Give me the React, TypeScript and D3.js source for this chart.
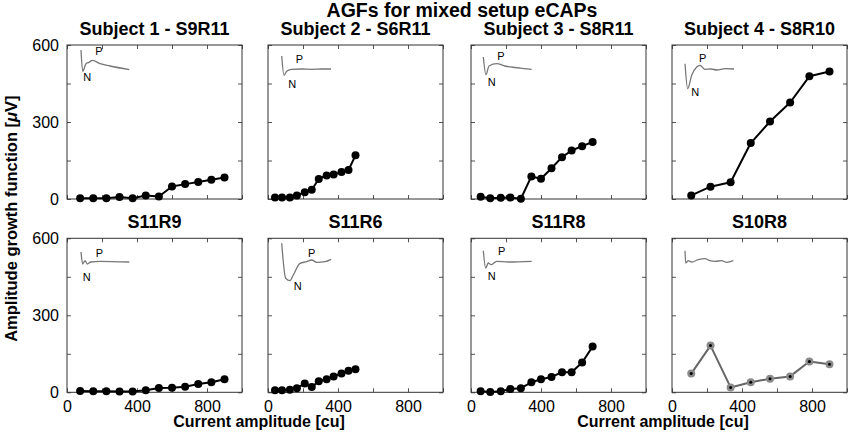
import React, { useEffect, useRef } from 'react';
import * as d3 from 'd3';

// AGF panels: current amplitude [cu] vs amplitude growth function [µV]
const titles = [
  'Subject 1 - S9R11', 'Subject 2 - S6R11', 'Subject 3 - S8R11', 'Subject 4 - S8R10',
  'S11R9', 'S11R6', 'S11R8', 'S10R8',
];

const currentS1 = [75, 150, 225, 300, 375, 450, 525, 600, 675, 750, 825, 900];
const currentS2 = [40, 80, 125, 165, 210, 250, 290, 335, 375, 420, 460, 500];
const currentS3 = [55, 110, 170, 225, 285, 345, 400, 460, 520, 575, 635, 695];
const currentS4 = [110, 220, 335, 450, 560, 675, 785, 900];

const agfS9R11 = [3, 3, 3, 8, 3, 14, 10, 49, 58, 66, 75, 84];
const agfS6R11 = [6, 6, 6, 14, 26, 36, 78, 92, 95, 105, 113, 170];
const agfS8R11 = [9, 3, 5, 6, 1, 88, 79, 120, 163, 189, 206, 222];
const agfS8R10 = [14, 48, 65, 218, 302, 376, 478, 497];
const agfS11R9 = [5, 4, 4, 3, 3, 8, 17, 18, 22, 32, 39, 51];
const agfS11R6 = [8, 8, 10, 16, 34, 21, 43, 51, 62, 73, 84, 90];
const agfS11R8 = [4, 1, 4, 13, 16, 39, 51, 60, 78, 78, 116, 178];
const agfS10R8 = [73, 182, 19, 39, 53, 62, 120, 109];

// inset eCAP traces, [time, amplitude] in inset units
const traceS9R11: [number, number][] = [[1, -5], [2.7, -26.3], [6, -18.7], [8.3, -17.7], [12.7, -15.3], [20, -18.7], [30, -21], [49.3, -24.7]];
const traceS6R11: [number, number][] = [[0.7, -11], [3, -30.3], [5.7, -26.3], [10.7, -24.3], [20.7, -24], [30.7, -24.3], [40.7, -24], [50, -24]];
const traceS8R11: [number, number][] = [[-0.7, -12], [2, -29.7], [5, -21], [12.7, -18.7], [21, -21], [31, -22.5], [38, -23.3], [47.7, -24.3]];
const traceS8R10: [number, number][] = [[0, -18.7], [2.7, -43.7], [6.7, -30.3], [11.7, -22], [15, -20.3], [20, -24.3], [26, -24], [32, -25], [40, -23.7], [49, -24]];
const traceS11R9: [number, number][] = [[1, -13.7], [2.7, -25.7], [5, -22.4], [7.3, -25.7], [10.7, -23.7], [20, -23], [49.3, -23.7]];
const traceS11R6: [number, number][] = [[0.7, -5], [4.7, -40], [9, -42.4], [12.3, -36.7], [19, -25], [25.7, -23.4], [30.7, -21.7], [35.7, -24], [44, -23.4], [50, -21]];
const traceS11R8: [number, number][] = [[-0.7, -12.4], [1.7, -29.7], [4.3, -24.7], [7, -26.4], [12.7, -23], [24.3, -23.7], [47.7, -23]];
const traceS10R8: [number, number][] = [[0, -12.4], [0.7, -24.7], [3.3, -22.4], [6.7, -23.7], [13.3, -21.4], [20, -20.4], [25, -22.4], [30, -23], [36.7, -22.4], [41.7, -24], [48.3, -22.4]];

// where the P and N marks sit on each trace
const pMarks: ([number, number] | null)[] = [[19, -6.3], [18.3, -14.3], [17, -11], [17.7, -13.3], [19.3, -14.7], [30.7, -14.4], [17.7, -13], null];
const nMarks: ([number, number] | null)[] = [[7.3, -32], [11.3, -39.3], [7.7, -37], [10.3, -46.7], [6.7, -39], [16.7, -47.7], [7.7, -37.4], null];

const xTicks = [0, 200, 400, 600, 800, 1000];
const xLabels = [0, 400, 800];
const yTicks = [0, 150, 300, 450, 600];
const yLabels = [0, 300, 600];

const currents = [currentS1, currentS2, currentS3, currentS4, currentS1, currentS2, currentS3, currentS4];
const agfs = [agfS9R11, agfS6R11, agfS8R11, agfS8R10, agfS11R9, agfS11R6, agfS11R8, agfS10R8];
const traces = [traceS9R11, traceS6R11, traceS8R11, traceS8R10, traceS11R9, traceS11R6, traceS11R8, traceS10R8];

const W = 851;
const H = 435;
const lefts = [67, 268, 471, 672];
const tops = [45, 238.3];
const pw = 175;
const ph = 154;
const font = "'Liberation Sans', Arial, Helvetica, sans-serif";

const App: React.FC = () => {
  const ref = useRef<SVGSVGElement>(null);

  useEffect(() => {
    if (!ref.current) return;
    const svg = d3.select(ref.current);
    svg.selectAll('*').remove();
    svg.style('font-family', font);

    titles.forEach((title, i) => {
      const col = i % 4;
      const row = Math.floor(i / 4);
      const left = lefts[col];
      const top = tops[row];
      const x = d3.scaleLinear().domain([0, 1000]).range([left, left + pw]);
      const y = d3.scaleLinear().domain([0, 600]).range([top + ph, top]);

      const g = svg.append('g');

      // frame ticks (inward, all four sides)
      const axes = [
        { ax: d3.axisBottom(x).tickValues(xTicks), t: `translate(0,${top + ph})`, lab: row === 1, list: xLabels },
        { ax: d3.axisTop(x).tickValues(xTicks), t: `translate(0,${top})`, lab: false, list: xLabels },
        { ax: d3.axisLeft(y).tickValues(yTicks), t: `translate(${left},0)`, lab: col === 0, list: yLabels },
        { ax: d3.axisRight(y).tickValues(yTicks), t: `translate(${left + pw},0)`, lab: false, list: yLabels },
      ];
      axes.forEach(({ ax, t, lab, list }, k) => {
        const a = g.append('g').attr('transform', t)
          .call(ax.tickSize(-4).tickPadding(k === 0 ? 8 : 8));
        a.select('.domain').remove();
        a.selectAll('line').attr('stroke', '#555');
        a.selectAll<SVGTextElement, number>('text')
          .filter(d => !lab || !list.includes(d))
          .remove();
        a.selectAll('text').attr('fill', '#000').style('font-size', '16px').style('font-family', font);
      });

      g.append('rect')
        .attr('x', left).attr('y', top).attr('width', pw).attr('height', ph)
        .attr('fill', 'none').attr('stroke', '#333').attr('stroke-width', 1);

      g.append('text')
        .attr('x', left + pw / 2).attr('y', top - 10)
        .attr('text-anchor', 'middle')
        .style('font-size', '18px').style('font-weight', 'bold')
        .text(title);

      // inset trace
      const tx = d3.scaleLinear().domain([0, 50]).range([left + 13, left + 63]);
      const ty = d3.scaleLinear().domain([-50, 0]).range([top + 50, top]);
      const traceLine = d3.line<[number, number]>().x(d => tx(d[0])).y(d => ty(d[1])).curve(d3.curveMonotoneX);
      g.append('path').datum(traces[i])
        .attr('fill', 'none').attr('stroke', '#777').attr('stroke-width', 1.3)
        .attr('d', traceLine as any);
      const pm = pMarks[i];
      const nm = nMarks[i];
      if (pm) {
        g.append('text').attr('x', tx(pm[0])).attr('y', ty(pm[1])).attr('dy', '0.36em')
          .attr('text-anchor', 'middle').style('font-size', '11px').text('P');
      }
      if (nm) {
        g.append('text').attr('x', tx(nm[0])).attr('y', ty(nm[1])).attr('dy', '0.36em')
          .attr('text-anchor', 'middle').style('font-size', '11px').text('N');
      }

      // AGF curve
      const pts: [number, number][] = currents[i].map((c, j) => [c, agfs[i][j]]);
      const grey = i === 7;
      const agfLine = d3.line<[number, number]>().x(d => x(d[0])).y(d => y(d[1]));
      g.append('path').datum(pts)
        .attr('fill', 'none').attr('stroke', grey ? '#666' : '#000')
        .attr('stroke-width', 2).attr('stroke-linejoin', 'round')
        .attr('d', agfLine as any);
      g.selectAll('circle.m').data(pts).enter().append('circle')
        .attr('cx', d => x(d[0])).attr('cy', d => y(d[1]))
        .attr('r', 4).attr('fill', grey ? '#8a8a8a' : '#000');
      if (grey) {
        g.selectAll('circle.c').data(pts).enter().append('circle')
          .attr('cx', d => x(d[0])).attr('cy', d => y(d[1]))
          .attr('r', 1.5).attr('fill', '#000');
      }
    });

    svg.append('text')
      .attr('x', 462).attr('y', 17)
      .attr('text-anchor', 'middle')
      .style('font-size', '19.5px').style('font-weight', 'bold')
      .text('AGFs for mixed setup eCAPs');

    [(lefts[0] + lefts[1] + pw) / 2, (lefts[2] + lefts[3] + pw) / 2].forEach(cx => {
      svg.append('text')
        .attr('x', cx + 4).attr('y', 427)
        .attr('text-anchor', 'middle')
        .style('font-size', '16px').style('font-weight', 'bold')
        .text('Current amplitude [cu]');
    });

    const yl = svg.append('text')
      .attr('transform', `translate(17,${(tops[0] + tops[1] + ph) / 2}) rotate(-90)`)
      .attr('text-anchor', 'middle')
      .style('font-size', '16.5px').style('font-weight', 'bold');
    yl.append('tspan').text('Amplitude growth function [');
    yl.append('tspan').style('font-style', 'italic').text('μ');
    yl.append('tspan').text('V]');
  }, []);

  return (
    <div style={{ position: 'absolute', left: 0, top: 0 }}>
      <svg ref={ref} width={W} height={H} style={{ display: 'block', background: '#fff' }}></svg>
    </div>
  );
};

export default App;
